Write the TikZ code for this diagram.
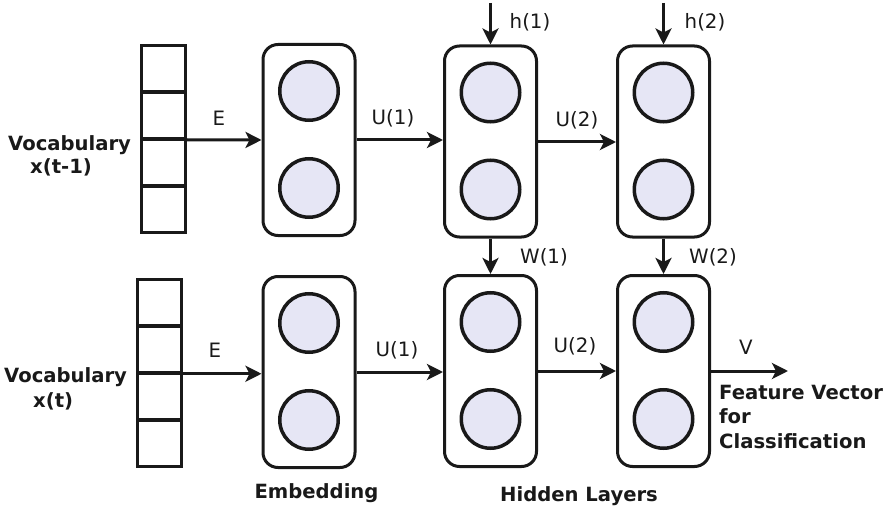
\documentclass[tikz,border=0pt]{standalone}
\usepackage{fontspec}
\setmainfont{DejaVu Sans}
\usetikzlibrary{arrows.meta,positioning}
\definecolor{unitfill}{RGB}{230,230,245}
\definecolor{ink}{RGB}{25,25,25}
\begin{document}
\begin{tikzpicture}[x=1pt,y=-1pt,
  every node/.style={font=\fontsize{19.8}{23}\selectfont, text=ink},
  cell/.style={draw=ink, line width=3pt, minimum width=44pt, minimum height=45.5pt, inner sep=0pt},
  layerbox/.style={draw=ink, line width=3pt, rounded corners=15pt, minimum width=92pt, minimum height=191pt, inner sep=0pt},
  unit/.style={circle, draw=ink, fill=unitfill, line width=3.5pt, minimum size=58.5pt, inner sep=0pt},
  flow/.style={draw=ink, line width=3pt, -{Stealth[length=16pt,width=16pt,inset=4pt]}},
  lbl/.style={inner sep=0pt},
  boldlbl/.style={inner sep=0pt, font=\fontsize{19.6}{24.5}\selectfont\bfseries}
]
\useasboundingbox (0,0) rectangle (892,508);

% ---- vocabulary columns ----
\foreach \i in {1,...,4} {
  \node[cell] (va\i) at (163.5, {21.5+47*\i}) {};
  \node[cell] (vb\i) at (159.5, {255.5+47*\i}) {};
}

% ---- layer boxes ----
\node[layerbox] (emba) at (309,140) {};
\node[layerbox] (hida) at (490.5,141.5) {};
\node[layerbox] (hidb) at (663.5,141.5) {};
\node[layerbox] (embb) at (309,372) {};
\node[layerbox] (hidc) at (490.5,371) {};
\node[layerbox] (hidd) at (663.5,371) {};

% ---- units inside each box ----
\foreach \b in {emba,hida,hidb,embb,hidc,hidd} {
  \node[unit] (\b-u1) at ([yshift=-48pt]\b.center) {};
  \node[unit] (\b-u2) at ([yshift=49pt]\b.center) {};
}

% ---- top row connections ----
\draw[flow] (va2.south east) -- (emba.west);
\draw[flow] (emba.east) -- (emba.east -| hida.west);
\draw[flow] (hida.east |- 0,142) -- (hidb.west |- 0,142);
\coordinate (hin1) at (490.5,3);
\coordinate (hin2) at (663.5,3);
\draw[flow] (hin1) -- (hida.north);
\draw[flow] (hin2) -- (hidb.north);
\draw[flow] (hida.south) -- (hidc.north);
\draw[flow] (hidb.south) -- (hidd.north);

% ---- bottom row connections ----
\draw[flow] (vb2.south east) -- (vb2.south east -| embb.west);
\draw[flow] (embb.east) -- (embb.east -| hidc.west);
\draw[flow] (hidc.east) -- (hidd.west);
\coordinate (vout) at (788,371);
\draw[flow] (hidd.east) -- (vout);

% ---- connection labels ----
\node[lbl] (lE1) at (219,118) {E};
\node[lbl] (lU11) at (393,118) {U(1)};
\node[lbl] (lU21) at (577,120) {U(2)};
\node[lbl] (lh1) at (530,22) {h(1)};
\node[lbl] (lh2) at (705,22) {h(2)};
\node[lbl] (lW1) at (544,257) {W(1)};
\node[lbl] (lW2) at (713,257) {W(2)};
\node[lbl] (lE2) at (215,350) {E};
\node[lbl] (lU12) at (397,350) {U(1)};
\node[lbl] (lU22) at (575,346) {U(2)};
\node[lbl] (lV) at (746,347) {V};

% ---- captions ----
\node[boldlbl, anchor=base west] (vocA) at (8,151) {Vocabulary};
\node[boldlbl, anchor=base west] (vocAx) at (30,174) {x(t-1)};
\node[boldlbl, anchor=base west] (vocB) at (4,382) {Vocabulary};
\node[boldlbl, anchor=base west] (vocBx) at (33,407) {x(t)};
\node[boldlbl, anchor=base] (embcap) at (316.5,498) {Embedding};
\node[boldlbl, anchor=base] (hidcap) at (579,501) {Hidden Layers};
\node[boldlbl, anchor=north west, align=left] (feat) at (719,385)
  {Feature Vector\\for\\Classification};
\end{tikzpicture}
\end{document}
